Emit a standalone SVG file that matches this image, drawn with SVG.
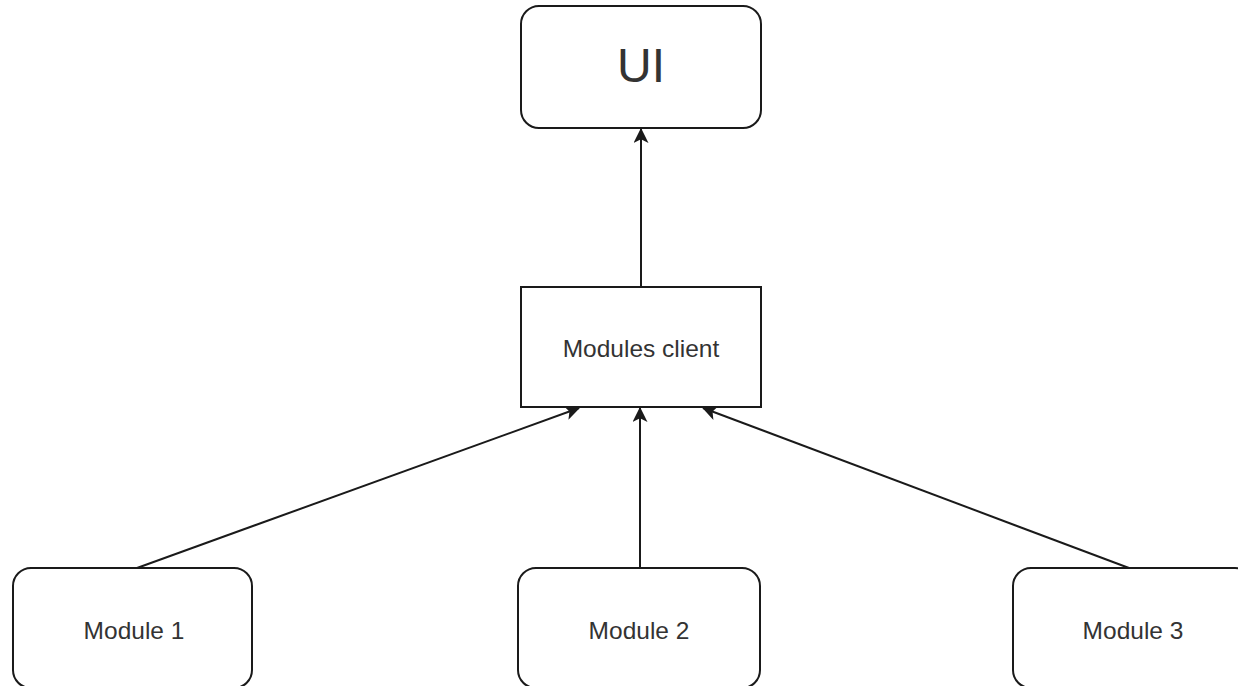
<svg xmlns="http://www.w3.org/2000/svg" width="1238" height="686" viewBox="0 0 1238 686">
<style>
.box{fill:#fff;stroke:#1a1a1a;stroke-width:2}
.lbl{font-family:"Liberation Sans",Arial,sans-serif;fill:#333;text-anchor:middle}
.edge{stroke:#1a1a1a;stroke-width:2;fill:none;marker-end:url(#arr)}
</style>
<defs>
<marker id="arr" viewBox="0 0 14 14" refX="13" refY="7" markerWidth="15" markerHeight="15" markerUnits="userSpaceOnUse" orient="auto">
<path d="M0,0 L14,7 L0,14 L3.5,7 Z" fill="#1a1a1a"/>
</marker>
</defs>
<rect width="1238" height="686" fill="#fff"/>
<g id="connectors">
<line class="edge" x1="641" y1="287" x2="641" y2="129"/>
<line class="edge" x1="137" y1="568" x2="579" y2="408"/>
<line class="edge" x1="640" y1="568" x2="640" y2="408"/>
<line class="edge" x1="1129" y1="568" x2="703" y2="408"/>
</g>
<g id="ui">
<rect class="box" x="521" y="6" width="240" height="122" rx="18"/>
<text class="lbl" x="641" y="82" font-size="48">UI</text>
</g>
<g id="modules-client">
<rect class="box" x="521" y="287" width="240" height="120"/>
<text class="lbl" x="641" y="357" font-size="24.5">Modules client</text>
</g>
<g id="module1">
<rect class="box" x="13" y="568" width="239" height="120" rx="18"/>
<text class="lbl" x="134" y="639" font-size="24.5">Module 1</text>
</g>
<g id="module2">
<rect class="box" x="518" y="568" width="242" height="120" rx="18"/>
<text class="lbl" x="639" y="639" font-size="24.5">Module 2</text>
</g>
<g id="module3">
<rect class="box" x="1013" y="568" width="240" height="120" rx="18"/>
<text class="lbl" x="1133" y="639" font-size="24.5">Module 3</text>
</g>
</svg>
